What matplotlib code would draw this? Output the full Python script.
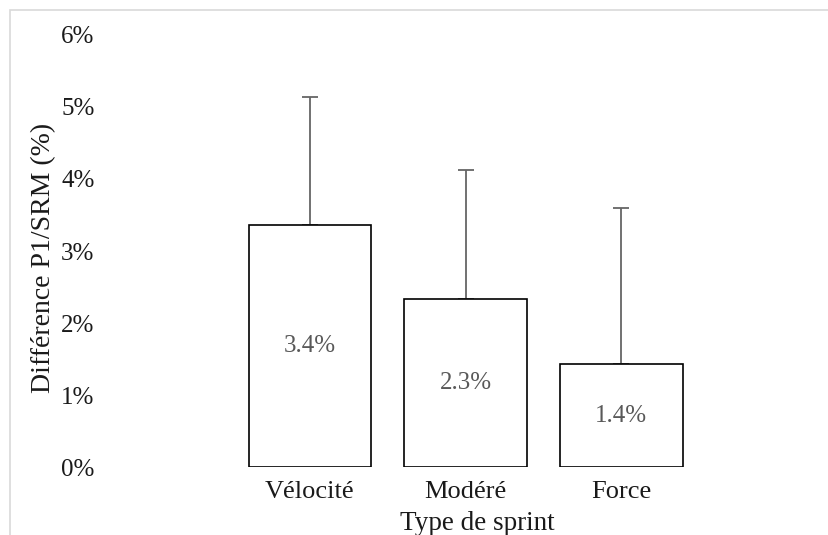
import matplotlib.pyplot as plt
from matplotlib.patches import Rectangle
from matplotlib.ticker import PercentFormatter

plt.rcParams['font.family'] = ['Liberation Serif', 'DejaVu Serif']

# Data
sprint_types = ['Vélocité', 'Modéré', 'Force']
mean_diff = [0.0336, 0.0233, 0.0143]
sd_diff = [0.0178, 0.0180, 0.0217]
bar_labels = ['3.4%', '2.3%', '1.4%']

fig = plt.figure(figsize=(8.29, 5.35), dpi=100)

# Light frame around the chart area (top and left edges visible)
fig.patches.append(Rectangle((10 / 829, -0.1), 1.2, (525 / 535) + 0.1,
                             transform=fig.transFigure, fill=False,
                             edgecolor='#d9d9d9', linewidth=1.2))

ax = fig.add_axes([100 / 829, 68 / 535, 700 / 829, 432 / 535])

x = range(len(sprint_types))
ax.bar(x, mean_diff, width=0.79, color='white', edgecolor='black',
       linewidth=1.2, zorder=2)
ax.errorbar(x, mean_diff, yerr=[[0] * len(sd_diff), sd_diff], fmt='none',
            ecolor='#666666', elinewidth=1.3, capsize=6, capthick=1.3, zorder=1)

for xi, v, lab in zip(x, mean_diff, bar_labels):
    ax.text(xi, v / 2, lab, ha='center', va='center',
            fontsize=18, color='#595959', zorder=3)

ax.set_xlim(-1.35, 3.15)
ax.set_ylim(0, 0.06)
ax.set_yticks([0, 0.01, 0.02, 0.03, 0.04, 0.05, 0.06])
ax.yaxis.set_major_formatter(PercentFormatter(1.0, decimals=0))
ax.set_xticks(list(x))
ax.set_xticklabels(sprint_types)
ax.tick_params(axis='both', length=0, colors='#1a1a1a')
ax.tick_params(axis='y', pad=4, labelsize=18)
ax.tick_params(axis='x', pad=10, labelsize=19)

for s in ax.spines.values():
    s.set_visible(False)

ax.set_ylabel('Différence P1/SRM (%)', fontsize=20, color='#1a1a1a')
ax.yaxis.set_label_coords(-44 / 700, 0.485)
ax.set_xlabel('Type de sprint', fontsize=19.5, color='#1a1a1a')
ax.xaxis.set_label_coords((477 - 100) / 700, -44 / 432)

plt.savefig('out.png', dpi=100)
plt.close()
